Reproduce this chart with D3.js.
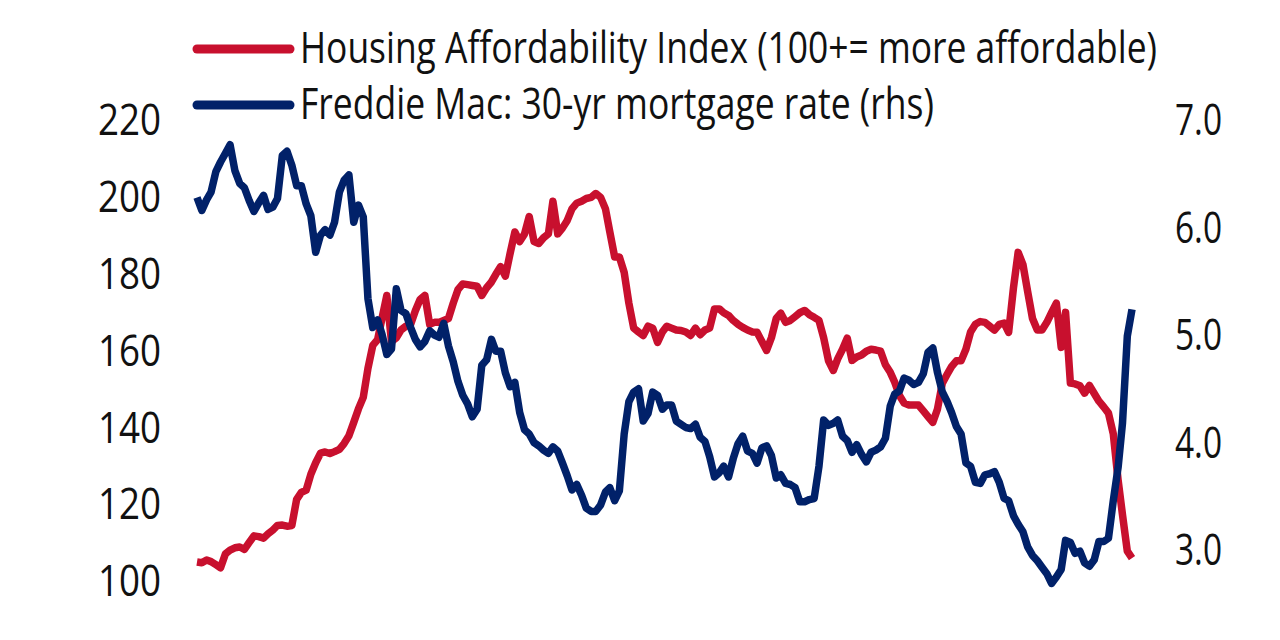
<!DOCTYPE html>
<html>
<head>
<meta charset="utf-8">
<script src="https://cdn.jsdelivr.net/npm/d3@7"></script>
<style>
  html, body { margin: 0; padding: 0; background: #fff; }
  svg { display: block; }
  text { font-family: "Liberation Sans Narrow", "Open Sans", "Liberation Sans", sans-serif; fill: #111; }
</style>
</head>
<body>
<svg id="chart" width="1280" height="640"></svg>
<script>
// ---- Data (monthly, Dec 2005 .. May 2022) ----
const startMonth = new Date(2005, 11, 1);
const endMonth = new Date(2022, 4, 1);
const months = d3.timeMonth.range(startMonth, d3.timeMonth.offset(endMonth, 1));

const seriesNames = [
  "Housing Affordability Index (100+= more affordable)",
  "Freddie Mac: 30-yr mortgage rate (rhs)"
];

const affordability = [
  104.7,
  104.5,105.2,104.8,104.0,103.2,106.8,107.8,108.4,108.6,108.0,109.8,111.5,
  111.3,110.9,112.0,113.0,114.2,114.3,114.0,114.2,121.0,122.8,123.4,127.5,
  130.5,133.0,133.3,132.9,133.4,134.0,135.5,137.5,141.0,144.5,147.5,155.0,
  161.0,162.5,168.0,174.0,162.0,163.0,165.0,166.0,166.5,170.0,173.0,174.0,
  166.5,167.0,167.0,167.5,168.0,172.0,175.5,177.0,176.8,176.6,176.4,174.0,
  176.0,177.5,179.5,181.5,179.0,185.0,190.5,188.0,190.0,194.5,188.0,187.5,
  189.0,190.0,198.5,190.0,191.5,193.5,196.5,198.0,198.5,199.2,199.5,200.5,
  199.5,196.5,190.5,184.0,184.0,180.0,172.0,165.5,164.5,163.6,166.0,165.5,
  161.8,164.5,166.0,165.5,165.0,164.9,164.5,163.6,165.5,163.8,165.0,165.5,
  170.5,170.5,169.5,168.8,167.5,166.5,165.7,165.0,164.5,164.4,162.0,159.7,
  163.0,168.0,169.4,167.0,167.5,168.5,169.5,170.1,169.0,168.3,167.5,163.0,
  157.0,154.5,157.5,160.0,162.9,157.1,158.0,158.5,159.5,160.0,159.8,159.5,
  156.0,154.0,151.5,148.0,146.0,145.5,145.5,145.5,144.0,142.5,141.0,144.5,
  151.2,153.5,155.5,157.0,157.0,160.0,164.5,166.5,167.2,167.0,166.0,165.0,
  166.5,166.8,164.4,176.0,185.2,182.0,175.0,168.0,165.0,165.0,167.0,169.5,
  172.0,160.5,169.6,151.2,151.0,150.5,148.6,150.6,148.5,146.5,145.0,143.4,
  138.0,126.0,117.0,107.5,105.7
];

const mortgageRate = [
  6.27,
  6.15,6.25,6.32,6.51,6.60,6.68,6.76,6.52,6.40,6.36,6.24,6.14,
  6.22,6.29,6.16,6.18,6.26,6.66,6.70,6.57,6.38,6.38,6.21,6.10,
  5.76,5.92,5.97,5.92,6.04,6.32,6.43,6.48,6.04,6.20,6.09,5.33,
  5.06,5.13,5.00,4.81,4.86,5.42,5.22,5.19,5.06,4.95,4.88,4.93,
  5.03,4.99,4.97,5.10,4.89,4.74,4.56,4.43,4.35,4.23,4.30,4.71,
  4.76,4.95,4.84,4.84,4.64,4.51,4.55,4.27,4.11,4.07,3.99,3.96,
  3.92,3.89,3.95,3.91,3.80,3.68,3.55,3.60,3.50,3.38,3.35,3.35,
  3.41,3.53,3.57,3.45,3.54,4.07,4.37,4.46,4.49,4.19,4.26,4.46,
  4.43,4.30,4.34,4.34,4.19,4.16,4.13,4.12,4.16,4.04,4.00,3.86,
  3.67,3.71,3.77,3.67,3.84,3.98,4.05,3.91,3.89,3.80,3.94,3.96,
  3.87,3.66,3.69,3.61,3.60,3.57,3.44,3.44,3.46,3.47,3.77,4.20,
  4.15,4.17,4.20,4.05,4.01,3.90,3.97,3.88,3.81,3.90,3.92,3.95,
  4.03,4.33,4.44,4.47,4.59,4.57,4.53,4.55,4.63,4.83,4.87,4.64,
  4.46,4.37,4.27,4.14,4.07,3.80,3.77,3.62,3.61,3.69,3.70,3.72,
  3.62,3.47,3.45,3.31,3.23,3.16,3.02,2.94,2.89,2.83,2.77,2.68,
  2.74,2.81,3.08,3.06,2.96,2.98,2.87,2.84,2.90,3.07,3.07,3.10,
  3.45,3.76,4.17,4.98,5.23
];

const leftTicks = [80, 100, 120, 140, 160, 180, 200, 220];
const rightTicks = [2.0, 3.0, 4.0, 5.0, 6.0, 7.0];

// ---- Layout ----
const RED = "#C8102E";
const NAVY = "#012169";
const svg = d3.select("#chart");

const x = d3.scaleTime().domain([startMonth, endMonth]).range([197, 1132]);
const yL = d3.scaleLinear().domain([80, 220]).range([657, 118.5]);
const yR = d3.scaleLinear().domain([2, 7]).range([656.5, 119]);

// Axes (labels only)
const fontSize = 44;
function fitLabel(sel, perDigit, perDot) {
  sel.each(function () {
    const t = this.textContent;
    let w = 0;
    for (const c of t) w += (c === ".") ? perDot : perDigit;
    d3.select(this).attr("textLength", w).attr("lengthAdjust", "spacingAndGlyphs");
  });
}

const gL = svg.append("g").attr("transform", "translate(161,0)")
  .call(d3.axisLeft(yL).tickValues(leftTicks).tickSize(0).tickPadding(0).tickFormat(d3.format("d")));
gL.select(".domain").remove();
gL.selectAll("text").attr("font-size", fontSize).attr("font-family", null).attr("dy", "0.36em").attr("fill", "#111")
  .call(fitLabel, 21, 7);

const gR = svg.append("g").attr("transform", "translate(1175,0)")
  .call(d3.axisRight(yR).tickValues(rightTicks).tickSize(0).tickPadding(0).tickFormat(d3.format(".1f")));
gR.select(".domain").remove();
gR.selectAll("text").attr("font-size", fontSize).attr("font-family", null).attr("dy", "0.36em").attr("fill", "#111")
  .call(fitLabel, 20, 7);

// Lines
const lineL = d3.line().x((d, i) => x(months[i])).y(d => yL(d));
const lineR = d3.line().x((d, i) => x(months[i])).y(d => yR(d));

svg.append("path").datum(affordability)
  .attr("d", lineL).attr("fill", "none").attr("stroke", RED)
  .attr("stroke-width", 7.5).attr("stroke-linejoin", "round");

svg.append("path").datum(mortgageRate)
  .attr("d", lineR).attr("fill", "none").attr("stroke", NAVY)
  .attr("stroke-width", 7.5).attr("stroke-linejoin", "round");

// Legend
const legendItems = [
  { name: seriesNames[0], color: RED, y: 49, textW: 857 },
  { name: seriesNames[1], color: NAVY, y: 105, textW: 634 }
];
const lg = svg.append("g");
legendItems.forEach(it => {
  lg.append("line").attr("x1", 197).attr("x2", 290).attr("y1", it.y).attr("y2", it.y)
    .attr("stroke", it.color).attr("stroke-width", 9).attr("stroke-linecap", "round");
  lg.append("text").attr("x", 300).attr("y", it.y + 14).attr("font-size", fontSize)
    .attr("textLength", it.textW).attr("lengthAdjust", "spacingAndGlyphs")
    .text(it.name);
});
</script>
</body>
</html>
